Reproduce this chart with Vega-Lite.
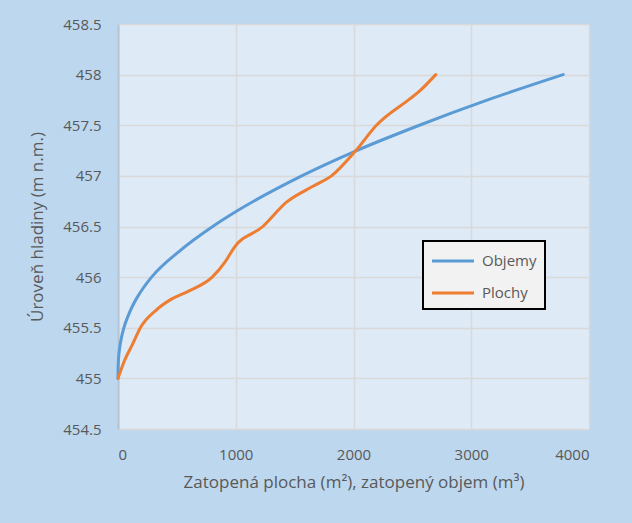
{
  "$schema": "https://vega.github.io/schema/vega-lite/v6.json",
  "width": 471,
  "height": 405,
  "autosize": {"type": "none"},
  "padding": {"left": 118, "top": 24, "right": 43, "bottom": 94},
  "background": "#bdd7ee",
  "config": {
    "font": "Open Sans",
    "view": {"fill": "#deeaf6", "stroke": null},
    "axis": {"labelColor": "#595959", "titleColor": "#595959", "labelFontSize": 15, "titleFontSize": 17, "titleFontWeight": "normal", "gridColor": "#d9d9d9", "gridWidth": 1.5, "ticks": false, "domainColor": "#b4c4d4", "domainWidth": 2}
  },
  "data": {"values": [
    {"x": 0, "y": 455, "s": "Objemy"},
    {"x": 1, "y": 455.1, "s": "Objemy"},
    {"x": 5, "y": 455.2, "s": "Objemy"},
    {"x": 14, "y": 455.3, "s": "Objemy"},
    {"x": 29, "y": 455.4, "s": "Objemy"},
    {"x": 50, "y": 455.5, "s": "Objemy"},
    {"x": 80, "y": 455.6, "s": "Objemy"},
    {"x": 117, "y": 455.7, "s": "Objemy"},
    {"x": 163, "y": 455.8, "s": "Objemy"},
    {"x": 219, "y": 455.9, "s": "Objemy"},
    {"x": 285, "y": 456.0, "s": "Objemy"},
    {"x": 515, "y": 456.25, "s": "Objemy"},
    {"x": 804, "y": 456.5, "s": "Objemy"},
    {"x": 1006, "y": 456.65, "s": "Objemy"},
    {"x": 1560, "y": 457.0, "s": "Objemy"},
    {"x": 2027, "y": 457.25, "s": "Objemy"},
    {"x": 2560, "y": 457.5, "s": "Objemy"},
    {"x": 3140, "y": 457.75, "s": "Objemy"},
    {"x": 3781, "y": 458.0, "s": "Objemy"},
    {"x": 0, "y": 455, "s": "Plochy"},
    {"x": 57, "y": 455.18, "s": "Plochy"},
    {"x": 125, "y": 455.34, "s": "Plochy"},
    {"x": 190, "y": 455.5, "s": "Plochy"},
    {"x": 320, "y": 455.67, "s": "Plochy"},
    {"x": 450, "y": 455.78, "s": "Plochy"},
    {"x": 595, "y": 455.86, "s": "Plochy"},
    {"x": 800, "y": 456.0, "s": "Plochy"},
    {"x": 910, "y": 456.15, "s": "Plochy"},
    {"x": 985, "y": 456.29, "s": "Plochy"},
    {"x": 1230, "y": 456.5, "s": "Plochy"},
    {"x": 1431, "y": 456.74, "s": "Plochy"},
    {"x": 1660, "y": 456.9, "s": "Plochy"},
    {"x": 1813, "y": 457.0, "s": "Plochy"},
    {"x": 2020, "y": 457.25, "s": "Plochy"},
    {"x": 2195, "y": 457.5, "s": "Plochy"},
    {"x": 2478, "y": 457.76, "s": "Plochy"},
    {"x": 2563, "y": 457.84, "s": "Plochy"},
    {"x": 2699, "y": 458.0, "s": "Plochy"}
  ]},
  "mark": {"type": "line", "interpolate": "monotone", "strokeWidth": 3, "strokeCap": "round"},
  "encoding": {
    "x": {"field": "x", "type": "quantitative", "scale": {"domain": [0, 4000], "nice": false},
      "axis": {"values": [0, 1000, 2000, 3000, 4000], "format": "d", "title": "Zatopená plocha (m²), zatopený objem (m³)", "labelPadding": 18, "titlePadding": 12, "domain": false}},
    "y": {"field": "y", "type": "quantitative", "scale": {"domain": [454.5, 458.5], "nice": false, "zero": false},
      "axis": {"values": [454.5, 455, 455.5, 456, 456.5, 457, 457.5, 458, 458.5], "format": ".1~f", "title": "Úroveň hladiny (m n.m.)", "labelPadding": 17, "titlePadding": 16}},
    "color": {"field": "s", "type": "nominal", "scale": {"domain": ["Objemy", "Plochy"], "range": ["#5b9bd5", "#ed7d31"]},
      "legend": {"title": null, "orient": "none", "legendX": 305, "legendY": 217, "fillColor": "#f2f2f2", "strokeColor": "#000000", "padding": 8, "symbolType": "M-2,0H2", "symbolSize": 441, "symbolOffset": 10, "symbolStrokeWidth": 3, "labelFontSize": 15, "labelColor": "#595959", "labelOffset": 17, "rowPadding": 12, "offset": 0,
        "encode": {"legend": {"update": {"strokeWidth": {"value": 2}}}}}}
  }
}
